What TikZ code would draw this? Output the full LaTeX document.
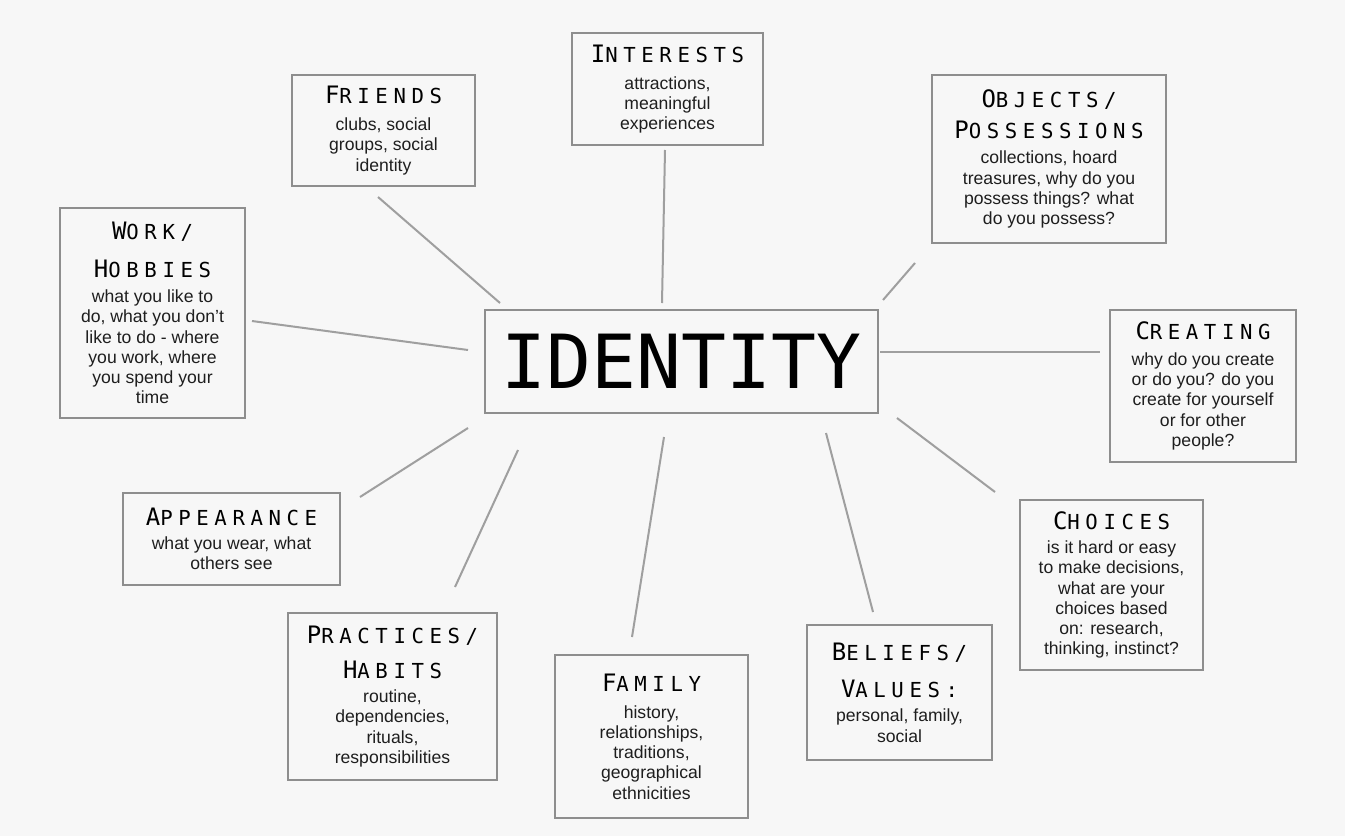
\documentclass[tikz,border=0pt]{standalone}
\usepackage{fontspec}
\setmainfont{Liberation Sans}
\newfontfamily\hdfont{DejaVu Sans Mono}[LetterSpace=27]
\newfontfamily\idfont{DejaVu Sans Mono}
\newcommand{\hd}[2]{{\hdfont\color{black}\fontsize{18}{15}\selectfont #1\fontsize{15.5}{15}\selectfont #2}}
\definecolor{bg}{HTML}{F7F7F7}
\definecolor{frame}{HTML}{8E8E8E}
\definecolor{ink}{HTML}{1E1E1E}
\tikzset{
  box/.style={draw=frame, line width=1.8pt, fill=bg, align=center, inner sep=2pt,
    text=ink, font=\fontsize{13.2}{15.2}\selectfont},
  link/.style={draw=frame!85, line width=1.5pt},
}
\begin{document}
\begin{tikzpicture}[x=0.75pt,y=-0.75pt]
\useasboundingbox[fill=bg] (0,0) rectangle (1345,836);

\node[box, minimum width=294.75pt, minimum height=77.25pt, text=black,
  font=\idfont\fontsize{56}{56}\selectfont] (identity) at (681.5,361.5) {IDENTITY};

\node[box, minimum width=137.25pt, minimum height=83.25pt] (friends) at (383.5,130.5)
  {\hd{F}{RIENDS}\\[5pt]clubs, social\\groups, social\\identity};
\node[box, minimum width=143.25pt, minimum height=84pt] (interests) at (667.5,89)
  {\hd{I}{NTERESTS}\\[5pt]attractions,\\meaningful\\experiences};
\node[box, minimum width=175.5pt, minimum height=126pt] (objects) at (1049,159)
  {\hd{O}{BJECTS/}\\[8pt]\hd{P}{OSSESSIONS}\\[4pt]collections, hoard\\treasures, why do you\\possess things? what\\do you possess?};
\node[box, minimum width=138.75pt, minimum height=157.5pt] (work) at (152.5,313)
  {\hd{W}{ORK/}\\[13pt]\hd{H}{OBBIES}\\[4pt]what you like to\\do, what you don't\\like to do - where\\you work, where\\you spend your\\time};
\node[box, minimum width=139.5pt, minimum height=114pt] (creating) at (1203,386)
  {\hd{C}{REATING}\\[4pt]why do you create\\or do you? do you\\create for yourself\\or for other\\people?};
\node[box, minimum width=162.75pt, minimum height=69pt] (appearance) at (231.5,539)
  {\hd{A}{PPEARANCE}\\[3pt]what you wear, what\\others see};
\node[box, minimum width=156.75pt, minimum height=125.25pt] (practices) at (392.5,696.5)
  {\hd{P}{RACTICES/}\\[11pt]\hd{H}{ABITS}\\[3pt]routine,\\dependencies,\\rituals,\\responsibilities};
\node[box, minimum width=144.75pt, minimum height=122.25pt] (family) at (651.5,736.5)
  {\hd{F}{AMILY}\\[5pt]history,\\relationships,\\traditions,\\geographical\\ethnicities};
\node[box, minimum width=138.75pt, minimum height=101.25pt] (beliefs) at (899.5,692.5)
  {\hd{B}{ELIEFS/}\\[13pt]\hd{V}{ALUES:}\\[3pt]personal, family,\\social};
\node[box, minimum width=137.25pt, minimum height=127.5pt] (choices) at (1111.5,585)
  {\hd{C}{HOICES}\\[3pt]is it hard or easy\\to make decisions,\\what are your\\choices based\\on: research,\\thinking, instinct?};

% connector end points
\coordinate (fr1) at (378,197);  \coordinate (fr2) at (500,303);
\coordinate (in1) at (665,150);  \coordinate (in2) at (662,303);
\coordinate (ob1) at (915,263);  \coordinate (ob2) at (883,300);
\coordinate (wo1) at (252,321);  \coordinate (wo2) at (468,350);
\coordinate (cr1) at (880,352);  \coordinate (cr2) at (1100,352);
\coordinate (ap1) at (360,497);  \coordinate (ap2) at (468,428);
\coordinate (pr1) at (455,587);  \coordinate (pr2) at (518,450);
\coordinate (fa1) at (632,637);  \coordinate (fa2) at (664,437);
\coordinate (be1) at (873,612);  \coordinate (be2) at (826,433);
\coordinate (ch1) at (995,492);  \coordinate (ch2) at (897,418);

\draw[link] (fr1) -- (fr2);
\draw[link] (in1) -- (in2);
\draw[link] (ob1) -- (ob2);
\draw[link] (wo1) -- (wo2);
\draw[link] (cr1) -- (cr2);
\draw[link] (ap1) -- (ap2);
\draw[link] (pr1) -- (pr2);
\draw[link] (fa1) -- (fa2);
\draw[link] (be1) -- (be2);
\draw[link] (ch1) -- (ch2);
\end{tikzpicture}
\end{document}
